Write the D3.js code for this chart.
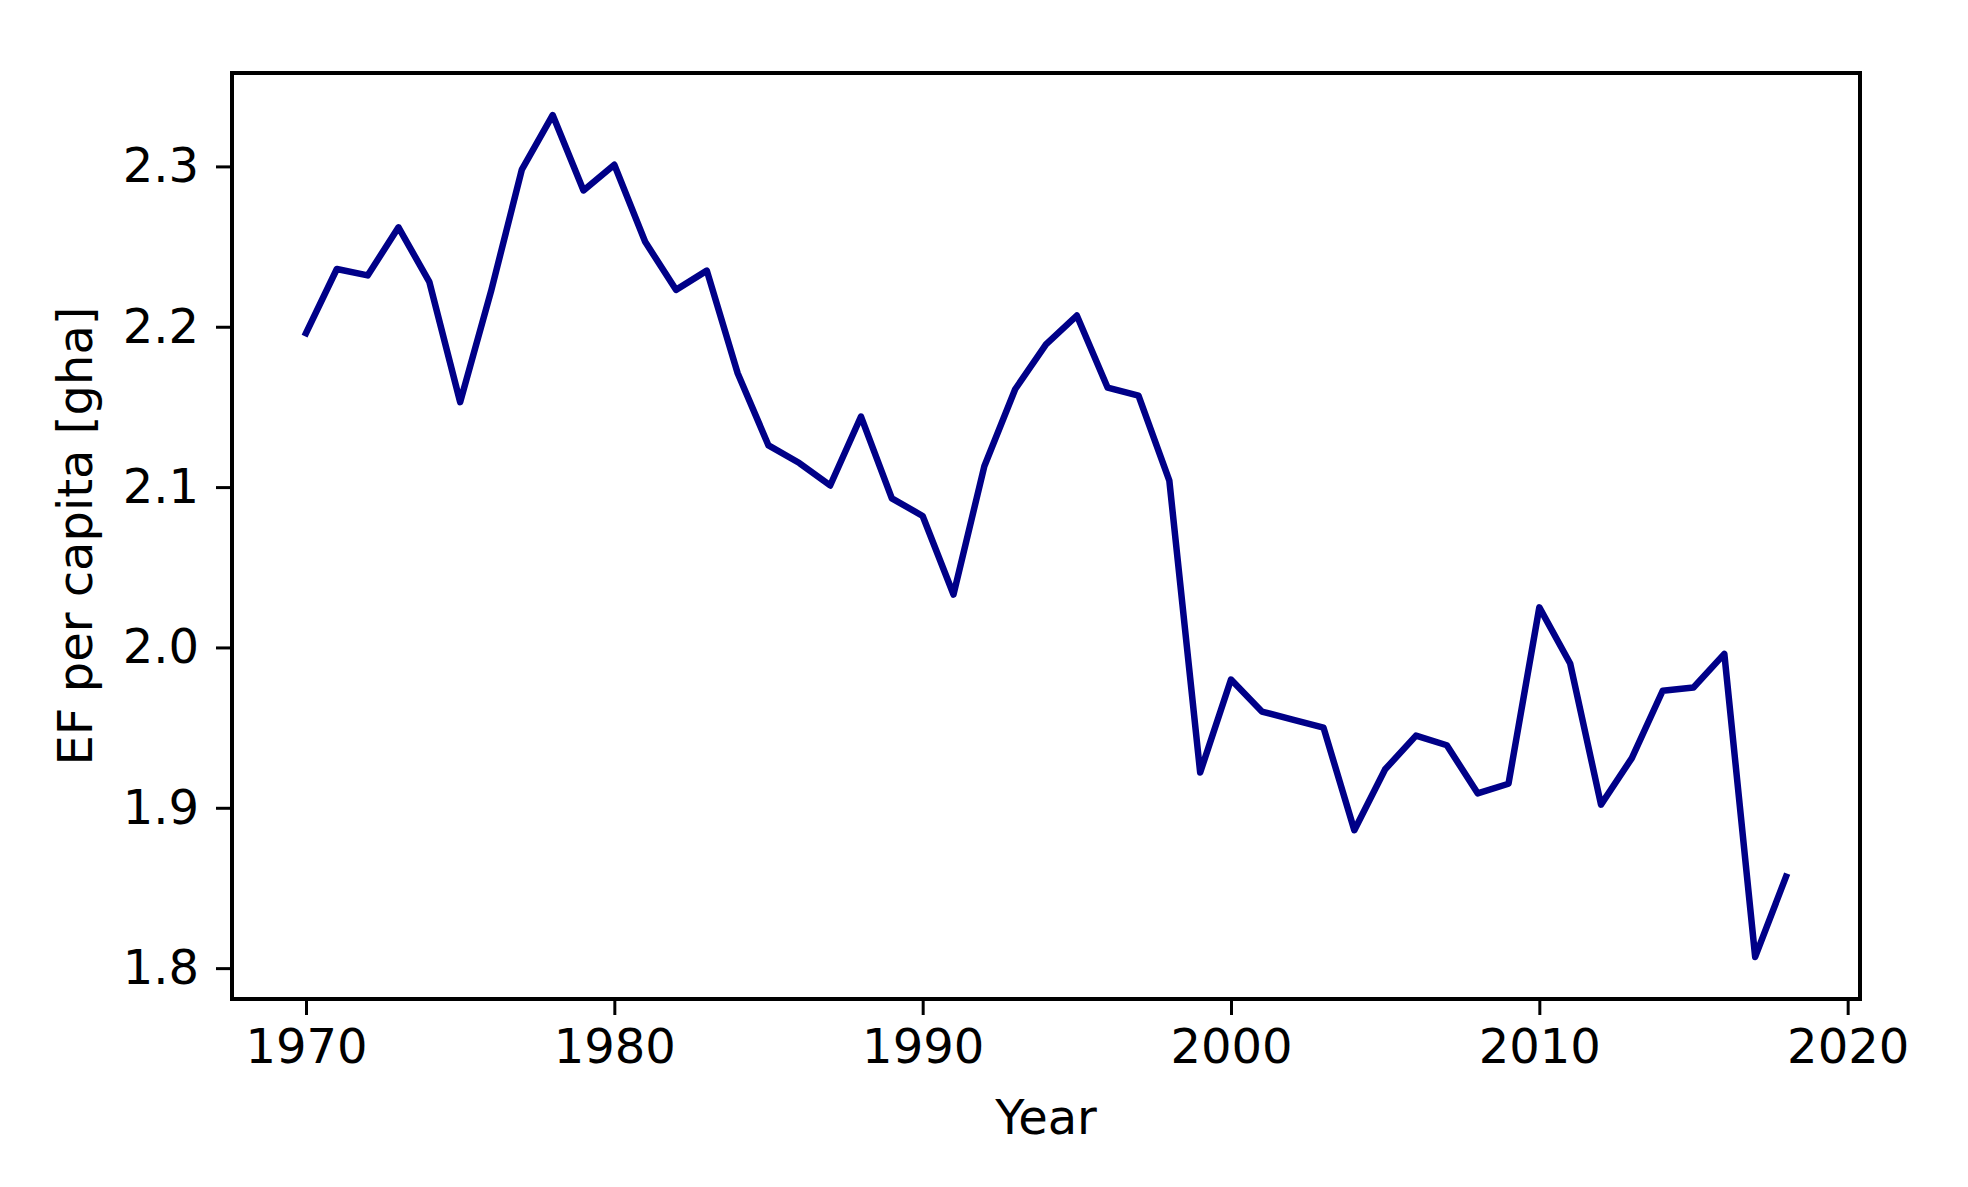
<!DOCTYPE html>
<html>
<head>
<meta charset="utf-8">
<script src="https://cdn.jsdelivr.net/npm/d3@7"></script>
<style>
  html, body { margin: 0; padding: 0; background: #ffffff; }
  svg { display: block; }
  text { font-family: "DejaVu Sans", sans-serif; fill: #000; }
</style>
</head>
<body>
<svg id="chart" width="1968" height="1187"></svg>
<script>
const years = [1970,1971,1972,1973,1974,1975,1976,1977,1978,1979,
               1980,1981,1982,1983,1984,1985,1986,1987,1988,1989,
               1990,1991,1992,1993,1994,1995,1996,1997,1998,1999,
               2000,2001,2002,2003,2004,2005,2006,2007,2008,2009,
               2010,2011,2012,2013,2014,2015,2016,2017,2018];
const efPerCapita = [2.196,2.236,2.232,2.262,2.228,2.153,2.222,2.298,2.332,2.285,
                     2.301,2.253,2.223,2.235,2.171,2.126,2.115,2.101,2.144,2.093,
                     2.082,2.033,2.113,2.161,2.189,2.207,2.162,2.157,2.104,1.922,
                     1.980,1.960,1.955,1.950,1.886,1.924,1.945,1.939,1.909,1.915,
                     2.025,1.990,1.902,1.931,1.973,1.975,1.996,1.807,1.857];
const xTicks = [1970,1980,1990,2000,2010,2020];
const yTicks = [1.8,1.9,2.0,2.1,2.2,2.3];
const xLabel = "Year";
const yLabel = "EF per capita [gha]";

const svg = d3.select("#chart");
const plot = {left: 232, right: 1860, top: 73, bottom: 999};

// matplotlib-like 5% margins
const xMin = d3.min(years), xMax = d3.max(years);
const xPad = (xMax - xMin) * 0.05;
const yMin = d3.min(efPerCapita), yMax = d3.max(efPerCapita);
const yPad = (yMax - yMin) * 0.05;

const x = d3.scaleLinear().domain([xMin - xPad, xMax + xPad]).range([plot.left, plot.right]);
const y = d3.scaleLinear().domain([yMin - yPad, yMax + yPad]).range([plot.bottom, plot.top]);

svg.append("rect").attr("width", 1968).attr("height", 1187).attr("fill", "#fff");

const data = years.map((yr, i) => ({yr, v: efPerCapita[i]}));

// line
svg.append("path")
  .datum(data)
  .attr("fill", "none")
  .attr("stroke", "#000088")
  .attr("stroke-width", 6.5)
  .attr("stroke-linejoin", "round")
  .attr("stroke-linecap", "square")
  .attr("d", d3.line().x(d => x(d.yr)).y(d => y(d.v)));

// axes
const fontSize = 48;
const xAxis = d3.axisBottom(x).tickValues(xTicks).tickFormat(d3.format("d"))
  .tickSizeInner(16).tickSizeOuter(0).tickPadding(14);
const yAxis = d3.axisLeft(y).tickValues(yTicks).tickFormat(d3.format(".1f"))
  .tickSizeInner(16).tickSizeOuter(0).tickPadding(17);

const gx = svg.append("g").attr("transform", `translate(0,${plot.bottom})`).call(xAxis);
const gy = svg.append("g").attr("transform", `translate(${plot.left},0)`).call(yAxis);
[gx, gy].forEach(g => {
  g.select(".domain").remove();
  g.selectAll(".tick line").attr("stroke", "#000").attr("stroke-width", 3);
  g.selectAll(".tick text").style("font-size", fontSize + "px")
    .style("font-family", "'DejaVu Sans', sans-serif").attr("fill", "#000");
});

// frame
svg.append("rect")
  .attr("x", plot.left).attr("y", plot.top)
  .attr("width", plot.right - plot.left).attr("height", plot.bottom - plot.top)
  .attr("fill", "none").attr("stroke", "#000").attr("stroke-width", 4);

// axis labels
svg.append("text")
  .attr("x", (plot.left + plot.right) / 2)
  .attr("y", 1134)
  .attr("text-anchor", "middle")
  .style("font-size", fontSize + "px")
  .text(xLabel);

svg.append("text")
  .attr("transform", `translate(92,${(plot.top + plot.bottom) / 2}) rotate(-90)`)
  .attr("text-anchor", "middle")
  .style("font-size", fontSize + "px")
  .text(yLabel);
</script>
</body>
</html>
